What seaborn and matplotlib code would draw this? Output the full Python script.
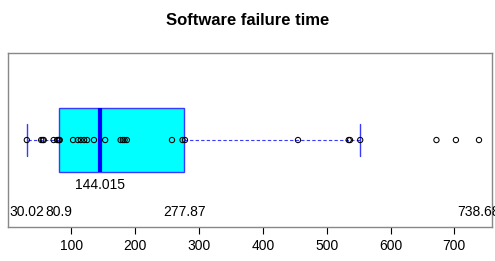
import numpy as np
import pandas as pd
import matplotlib
matplotlib.use("Agg")
import matplotlib.pyplot as plt
import seaborn as sns

# failure times
times = [30.02, 52.5, 55.0, 56.5, 72.0, 77.5, 79.5, 80.9, 81.5, 102.5,
         110.0, 114.5, 119.8, 124.5, 135.23, 152.8, 177.0, 180.5, 183.2, 186.8,
         257.5, 274.0, 277.87, 455.0, 534.5, 536.5, 552.5, 672.0, 702.5, 738.68]

# five-number labels written on the chart
low_labels = [30.02, 80.9, 277.87, 738.68]
median_label = 144.015
x_ticks = [100, 200, 300, 400, 500, 600, 700]

sns.set_style("white")
plt.rcParams['font.family'] = ['Liberation Sans', 'DejaVu Sans']
plt.rcParams['text.color'] = 'black'
plt.rcParams['xtick.color'] = 'black'
plt.rcParams['xtick.labelcolor'] = 'black'

df = pd.DataFrame({'time': times})

fig = plt.figure(figsize=(4.95, 2.61), dpi=100)
ax = fig.add_axes([0.0168, 0.129, 0.9777, 0.669])

sns.boxplot(data=df, x='time', orient='h', width=0.4, whis=1.5,
            showfliers=False, saturation=1, ax=ax,
            boxprops=dict(facecolor='#00ffff', edgecolor='#3a3aff', linewidth=1.0),
            medianprops=dict(color='#0000ff', linewidth=3),
            whiskerprops=dict(color='#3a3aff', linestyle=(0, (3, 2)), linewidth=0.8),
            capprops=dict(color='#3a3aff', linewidth=1.0))

sns.stripplot(data=df, x='time', orient='h', jitter=False, size=3.8,
              color='black', edgecolor='black', linewidth=0.75, ax=ax)
ax.collections[-1].set_facecolor('none')

# labels with the summary values
ax.text(median_label, 0.278, f'{median_label:g}', ha='center', va='center', fontsize=10)
for v in low_labels:
    ax.text(v, 0.445, f'{v:g}', ha='center', va='center', fontsize=10, clip_on=False)

ax.set_xlim(1.0, 759.5)
ax.set_ylim(0.54, -0.54)
ax.set_xticks(x_ticks)
ax.set_yticks([])
ax.set_xlabel('')
ax.set_ylabel('')
ax.tick_params(axis='x', bottom=True, direction='out', length=5, width=0.8,
               color='black', pad=3.5, labelsize=10)
for s in ax.spines.values():
    s.set_color('#888888')
    s.set_linewidth(1.0)

fig.suptitle('Software failure time', y=0.923, va='center', fontsize=12,
             fontweight='bold')

fig.savefig('out.png', dpi=100)
